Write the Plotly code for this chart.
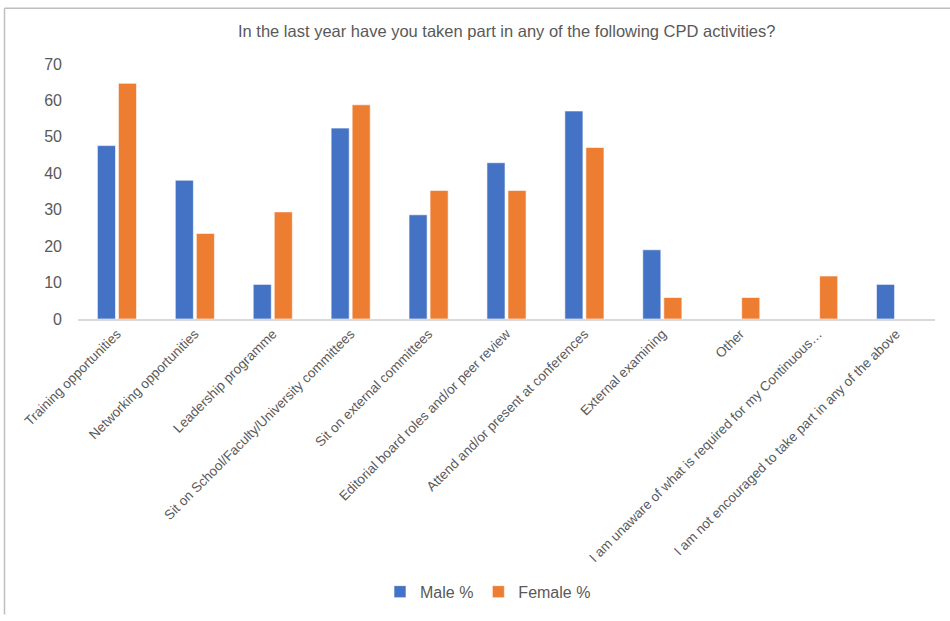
import plotly.graph_objects as go

categories = [
    "Training opportunities",
    "Networking opportunities",
    "Leadership programme",
    "Sit on School/Faculty/University committees",
    "Sit on external committees",
    "Editorial board roles and/or peer review",
    "Attend and/or present at conferences",
    "External examining",
    "Other",
    "I am unaware of what is required for my Continuous…",
    "I am not encouraged to take part in any of the above",
]
male_pct = [47.6, 38.1, 9.5, 52.4, 28.6, 42.9, 57.1, 19.0, 0, 0, 9.5]
female_pct = [64.7, 23.5, 29.4, 58.8, 35.3, 35.3, 47.1, 5.9, 5.9, 11.8, 0]
y_ticks = [0, 10, 20, 30, 40, 50, 60, 70]

title_text = "In the last year have you taken part in any of the following CPD activities?"

W, H = 950, 621
L, R, T, B = 78, 15, 64, 298.5
plot_w = W - L - R
plot_h = H - T - B


def px_x(px):
    return (px - L) / plot_w


def px_y(py):
    return (H - B - py) / plot_h


fig = go.Figure()
fig.add_trace(go.Bar(
    name="Male %", x=categories, y=male_pct,
    marker=dict(color="#4472C4", line=dict(color="rgba(255,255,255,0.6)", width=1)),
))
fig.add_trace(go.Bar(
    name="Female %", x=categories, y=female_pct,
    marker=dict(color="#ED7D31", line=dict(color="rgba(255,255,255,0.6)", width=1)),
))

grey = "#595959"
fig.update_layout(
    width=W, height=H,
    margin=dict(l=L, r=R, t=T, b=B, pad=0),
    paper_bgcolor="white", plot_bgcolor="white",
    font=dict(family="Liberation Sans, Arial, sans-serif", color=grey),
    barmode="group", bargap=0.46, bargroupgap=0.14,
    showlegend=True,
    legend=dict(
        orientation="h", x=px_x(488), xanchor="center",
        y=px_y(599), yanchor="middle",
        font=dict(size=16, color=grey), itemwidth=30,
        traceorder="normal",
    ),
    annotations=[dict(
        text=title_text, xref="paper", yref="paper",
        x=0.5, y=px_y(31), xanchor="center", yanchor="middle",
        showarrow=False, font=dict(size=16.5, color=grey),
    )],
    shapes=[
        dict(type="line", xref="paper", yref="paper",
             x0=px_x(4.5), x1=px_x(951), y0=px_y(7.5), y1=px_y(7.5),
             line=dict(color="#bfbfbf", width=1.5)),
        dict(type="line", xref="paper", yref="paper",
             x0=px_x(4.5), x1=px_x(4.5), y0=px_y(7.5), y1=px_y(622),
             line=dict(color="#bfbfbf", width=1.5)),
    ],
)
fig.update_xaxes(
    tickangle=-45, tickfont=dict(size=13.5, color=grey),
    showline=True, linecolor="#d9d9d9", linewidth=1.5,
    ticks="", showgrid=False,
)
fig.update_yaxes(
    range=[0, 70], tickvals=y_ticks, tickfont=dict(size=16, color=grey),
    showgrid=False, zeroline=False, showline=False, ticks="",
    ticklabelstandoff=15,
)

fig.write_html("out.html")
